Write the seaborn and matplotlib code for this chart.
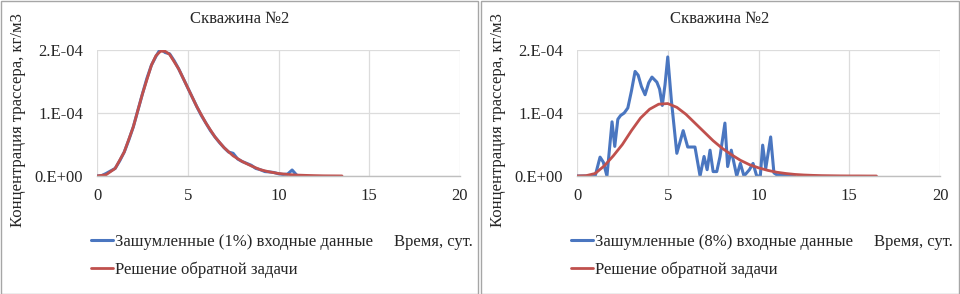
import numpy as np
import pandas as pd
import matplotlib
matplotlib.use("Agg")
import matplotlib.pyplot as plt
import seaborn as sns
from matplotlib.patches import Rectangle

# === данные: левый график (шум 1%) ===
t_noisy_1 = [0, 0.25, 0.5, 0.75, 1.0, 1.25, 1.5, 1.75, 2.0, 2.25, 2.5, 2.75, 3.0, 3.25, 3.5,
             3.75, 4.0, 4.25, 4.5, 4.75, 5.0, 5.25, 5.5, 5.75, 6.0, 6.25, 6.5, 6.75, 7.0, 7.25,
             7.5, 7.75, 8.0, 8.25, 8.5, 8.75, 9.0, 9.25, 9.5, 9.75, 10.0, 10.25, 10.5, 10.75, 11.0]
c_noisy_1 = [0, 0.05, 0.4, 0.8, 1.2, 2.4, 3.8, 5.7, 7.8, 10.4, 13.0, 15.5, 17.6, 19.0, 20.2,
             19.6, 19.4, 18.3, 17.0, 15.5, 14.0, 12.5, 11.0, 9.6, 8.4, 7.2, 6.2, 5.3, 4.5, 3.8,
             3.6, 2.7, 2.3, 2.0, 1.7, 1.2, 1.0, 0.7, 0.65, 0.55, 0.35, 0.25, 0.3, 0.95, 0.15]
t_inv_1 = [0, 0.5, 1.0, 1.5, 2.0, 2.5, 3.0, 3.25, 3.5, 3.75, 4.0, 4.5, 5.0, 5.5, 6.0, 6.5, 7.0,
           7.5, 8.0, 8.5, 9.0, 9.5, 10.0, 10.5, 11.0, 11.5, 12.0, 12.5, 13.0, 13.5]
c_inv_1 = [0, 0.2, 1.2, 3.8, 7.8, 13.0, 17.6, 19.1, 19.8, 19.8, 19.3, 17.0, 14.0, 11.0, 8.4,
           6.2, 4.5, 3.2, 2.3, 1.6, 1.0, 0.65, 0.4, 0.25, 0.15, 0.1, 0.06, 0.03, 0.02, 0.01]

# === данные: правый график (шум 8%) ===
t_noisy_8 = [0, 0.5, 1.0, 1.27, 1.45, 1.65, 1.93, 2.08, 2.25, 2.4, 2.6, 2.8, 3.0, 3.2, 3.37,
             3.55, 3.75, 3.95, 4.13, 4.4, 4.55, 4.7, 4.85, 5.0, 5.2, 5.5, 5.85, 6.1, 6.3, 6.5,
             6.78, 7.0, 7.17, 7.33, 7.5, 7.7, 7.88, 8.15, 8.3, 8.5, 8.8, 9.0, 9.2, 9.5, 9.7,
             9.9, 10.1, 10.23, 10.4, 10.67, 10.85, 11.0, 11.5, 12.0]
c_noisy_8 = [0, 0, 0, 3.0, 2.2, 0, 8.6, 4.7, 9.0, 9.6, 10.0, 10.8, 13.5, 16.6, 16.0,
             14.2, 12.9, 14.8, 15.7, 14.9, 13.8, 11.2, 14.5, 18.9, 12.0, 3.6, 7.2, 4.6, 4.6, 4.6,
             0, 3.1, 1.0, 4.1, 0.7, 0.7, 3.1, 8.4, 1.5, 4.1, 0, 2.0, 0, 1.0, 2.0,
             0, 0, 4.9, 1.2, 6.2, 0.5, 0.2, 0.1, 0]
t_inv_8 = [0, 0.5, 1.0, 1.5, 2.0, 2.5, 3.0, 3.5, 4.0, 4.5, 5.0, 5.5, 6.0, 6.5, 7.0, 7.5, 8.0,
           8.5, 9.0, 9.5, 10.0, 10.5, 11.0, 11.5, 12.0, 12.5, 13.0, 13.5, 14.0, 14.5, 15.0,
           15.5, 16.0, 16.5]
c_inv_8 = [0, 0.05, 0.4, 1.6, 3.2, 5.0, 7.2, 9.2, 10.6, 11.4, 11.5, 10.9, 9.8, 8.4, 7.0, 5.6,
           4.4, 3.4, 2.5, 1.8, 1.3, 0.9, 0.6, 0.4, 0.25, 0.16, 0.1, 0.06, 0.04, 0.02, 0.01,
           0.01, 0.0, 0.0]

panels = [
    ("Зашумленные (1%) входные данные", t_noisy_1, c_noisy_1, t_inv_1, c_inv_1),
    ("Зашумленные (8%) входные данные", t_noisy_8, c_noisy_8, t_inv_8, c_inv_8),
]
label_inv = "Решение обратной задачи"
title = "Скважина №2"
x_label = "Время, сут."
y_label = "Концентрация трассера, кг/м3"
x_ticks = [0, 5, 10, 15, 20]
y_ticks = [0, 1e-4, 2e-4]
y_tick_labels = ["0.E+00", "1.E-04", "2.E-04"]

sns.set_theme(style="white")
plt.rcParams["font.family"] = ["Liberation Serif", "DejaVu Serif"]
txt = "#262626"
blue = "#4a76c0"
red = "#c0504d"
fs = 12

fig = plt.figure(figsize=(9.6, 2.94), dpi=100)

# рамки вокруг двух графиков
for x0, w in [(0.5 / 960, 477 / 960), (481 / 960, 478 / 960)]:
    fig.patches.append(Rectangle((x0, 0.5 / 294), w, 293 / 294, transform=fig.transFigure,
                                 fill=False, edgecolor="#a6a6a6", linewidth=1.0))

for i, (lab, tn, cn, ti, ci) in enumerate(panels):
    left = (97 + 480 * i) / 960
    ax = fig.add_axes([left, 1 - 176 / 294, 363 / 960, 126 / 294])
    d_n = pd.DataFrame({"t": tn, "c": np.array(cn) * 1e-5})
    d_i = pd.DataFrame({"t": ti, "c": np.array(ci) * 1e-5})
    sns.lineplot(data=d_n, x="t", y="c", ax=ax, color=blue, linewidth=2.2, label=lab)
    sns.lineplot(data=d_i, x="t", y="c", ax=ax, color=red, linewidth=2.0, label=label_inv)

    ax.set_xlim(0, 20)
    ax.set_ylim(0, 2e-4)
    ax.set_xticks(x_ticks)
    ax.set_xticklabels([str(v) for v in x_ticks], fontsize=fs, color=txt)
    ax.set_yticks(y_ticks)
    ax.set_yticklabels(y_tick_labels, fontsize=fs, color=txt)
    ax.tick_params(axis="x", length=0, pad=9)
    ax.tick_params(axis="y", length=0, pad=10)
    ax.grid(True, color="#dcdcdc", linewidth=0.9)
    ax.set_axisbelow(True)
    for s in ["top", "right", "left"]:
        ax.spines[s].set_visible(False)
    ax.spines["bottom"].set_color("#bfbfbf")
    ax.spines["bottom"].set_linewidth(1.0)

    # заголовок по центру всей панели
    fig.text((240 + 480 * i) / 960, 1 - 19 / 294, title, fontsize=fs, color=txt,
             ha="center", va="center")
    ax.set_xlabel(x_label, fontsize=fs, color=txt, ha="right", va="center")
    ax.xaxis.set_label_coords((473 - 97) / 363, (176 - 242) / 126)
    ax.set_ylabel(y_label, fontsize=fs, color=txt, va="center")
    ax.yaxis.set_label_coords((18 - 97) / 363, (176 - 120) / 126)

    leg = ax.legend(loc="upper left", bbox_to_anchor=((91 - 97) / 363, (176 - 234) / 126),
                    frameon=False, fontsize=fs, handlelength=1.3, handletextpad=0.15,
                    labelspacing=0.68, borderpad=0, borderaxespad=0)
    for t in leg.get_texts():
        t.set_color(txt)

plt.savefig("out.png", dpi=100)
